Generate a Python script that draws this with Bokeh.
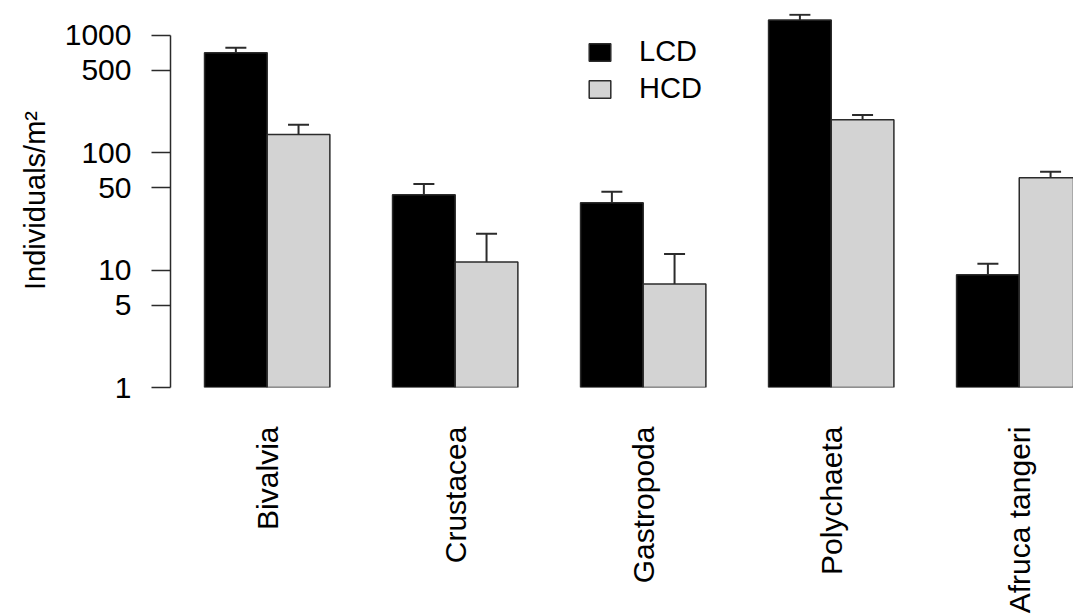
import numpy as np
from bokeh.plotting import figure
from bokeh.models import (ColumnDataSource, Range1d, FixedTicker, PrintfTickFormatter,
                          Whisker, TeeHead, Legend, LegendItem)
from bokeh.embed import file_html
from bokeh.resources import INLINE

# ---- data ----
categories = ["Bivalvia", "Crustacea", "Gastropoda", "Polychaeta", "Afruca tangeri"]
series = ["LCD", "HCD"]
lcd_mean = [706, 43.6, 37.3, 1345, 9.1]
lcd_upper = [778, 54, 46.3, 1486, 11.3]
hcd_mean = [142, 11.7, 7.6, 190, 61]
hcd_upper = [172, 20.3, 13.7, 209, 68.5]
y_ticks = [1, 5, 10, 50, 100, 500, 1000]

FONT = "Liberation Sans"
DARK = "#2b2b2b"

# bar layout: 2 bars per group + 1 bar-width gap (R barplot beside=TRUE)
n = len(categories)
group_start = [3 * i + 1 for i in range(n)]
x_lcd = [g + 0.5 for g in group_start]
x_hcd = [g + 1.5 for g in group_start]
x_mid = [g + 1 for g in group_start]

src_lcd = ColumnDataSource(dict(x=x_lcd, top=lcd_mean, upper=lcd_upper))
src_hcd = ColumnDataSource(dict(x=x_hcd, top=hcd_mean, upper=hcd_upper))

W, H = 1073, 616
left, right, top, bottom = 170, 0, 13, 229
px_per_unit = 62.67
px_per_decade = 117.5
x0 = 0.457
x1 = x0 + (W - left - right) / px_per_unit
ytop = 10 ** ((H - top - bottom) / px_per_decade)

p = figure(width=W, height=H, y_axis_type="log",
           x_range=Range1d(x0, x1), y_range=Range1d(1, ytop),
           output_backend="svg", toolbar_location=None,
           min_border_left=left, min_border_right=right,
           min_border_top=top, min_border_bottom=bottom)
p.outline_line_color = None
p.xgrid.visible = False
p.ygrid.visible = False
p.background_fill_color = "white"
p.border_fill_color = "white"

r1 = p.vbar(x="x", top="top", bottom=1, width=1, source=src_lcd,
            fill_color="black", line_color=DARK, line_width=1.5)
r2 = p.vbar(x="x", top="top", bottom=1, width=1, source=src_hcd,
            fill_color="#d3d3d3", line_color=DARK, line_width=1.5)

for src in (src_lcd, src_hcd):
    w = Whisker(source=src, base="x", lower="top", upper="upper", dimension="height",
                line_color=DARK, line_width=2,
                upper_head=TeeHead(size=21, line_color=DARK, line_width=2),
                lower_head=None)
    p.add_layout(w)

# y axis
ya = p.yaxis[0]
ya.ticker = FixedTicker(ticks=y_ticks, minor_ticks=[])
ya.formatter = PrintfTickFormatter(format="%d")
ya.bounds = (1, 1000)
ya.axis_line_color = DARK
ya.axis_line_width = 1.5
ya.major_tick_line_color = DARK
ya.major_tick_line_width = 1.5
ya.major_tick_out = 19
ya.major_tick_in = 0
ya.minor_tick_out = 0
ya.minor_tick_in = 0
ya.major_label_standoff = 20
ya.major_label_text_font = FONT
ya.major_label_text_font_size = "30px"
ya.major_label_text_color = "black"
ya.axis_label = "Individuals/m²"
ya.axis_label_text_font = FONT
ya.axis_label_text_font_size = "29px"
ya.axis_label_text_font_style = "normal"
ya.axis_label_text_color = "black"
ya.axis_label_standoff = 11

# x axis (category labels only)
xa = p.xaxis[0]
xa.ticker = FixedTicker(ticks=x_mid, minor_ticks=[])
xa.major_label_overrides = {int(v): c for v, c in zip(x_mid, categories)}
xa.major_label_orientation = np.pi / 2
xa.axis_line_color = None
xa.major_tick_line_color = None
xa.minor_tick_line_color = None
xa.major_tick_out = 0
xa.major_tick_in = 0
xa.minor_tick_out = 0
xa.minor_tick_in = 0
xa.major_label_standoff = 39
xa.major_label_text_font = FONT
xa.major_label_text_font_size = "30px"
xa.major_label_text_color = "black"

legend = Legend(items=[LegendItem(label=series[0], renderers=[r1]),
                       LegendItem(label=series[1], renderers=[r2])],
                location=(416, 282), glyph_width=27, glyph_height=22,
                label_standoff=26, label_text_font=FONT, label_text_font_size="29px",
                label_text_color="black",
                padding=0, spacing=4, margin=0, border_line_color=None,
                background_fill_alpha=0)
p.add_layout(legend)

open("out.html", "w").write(file_html(p, INLINE))
